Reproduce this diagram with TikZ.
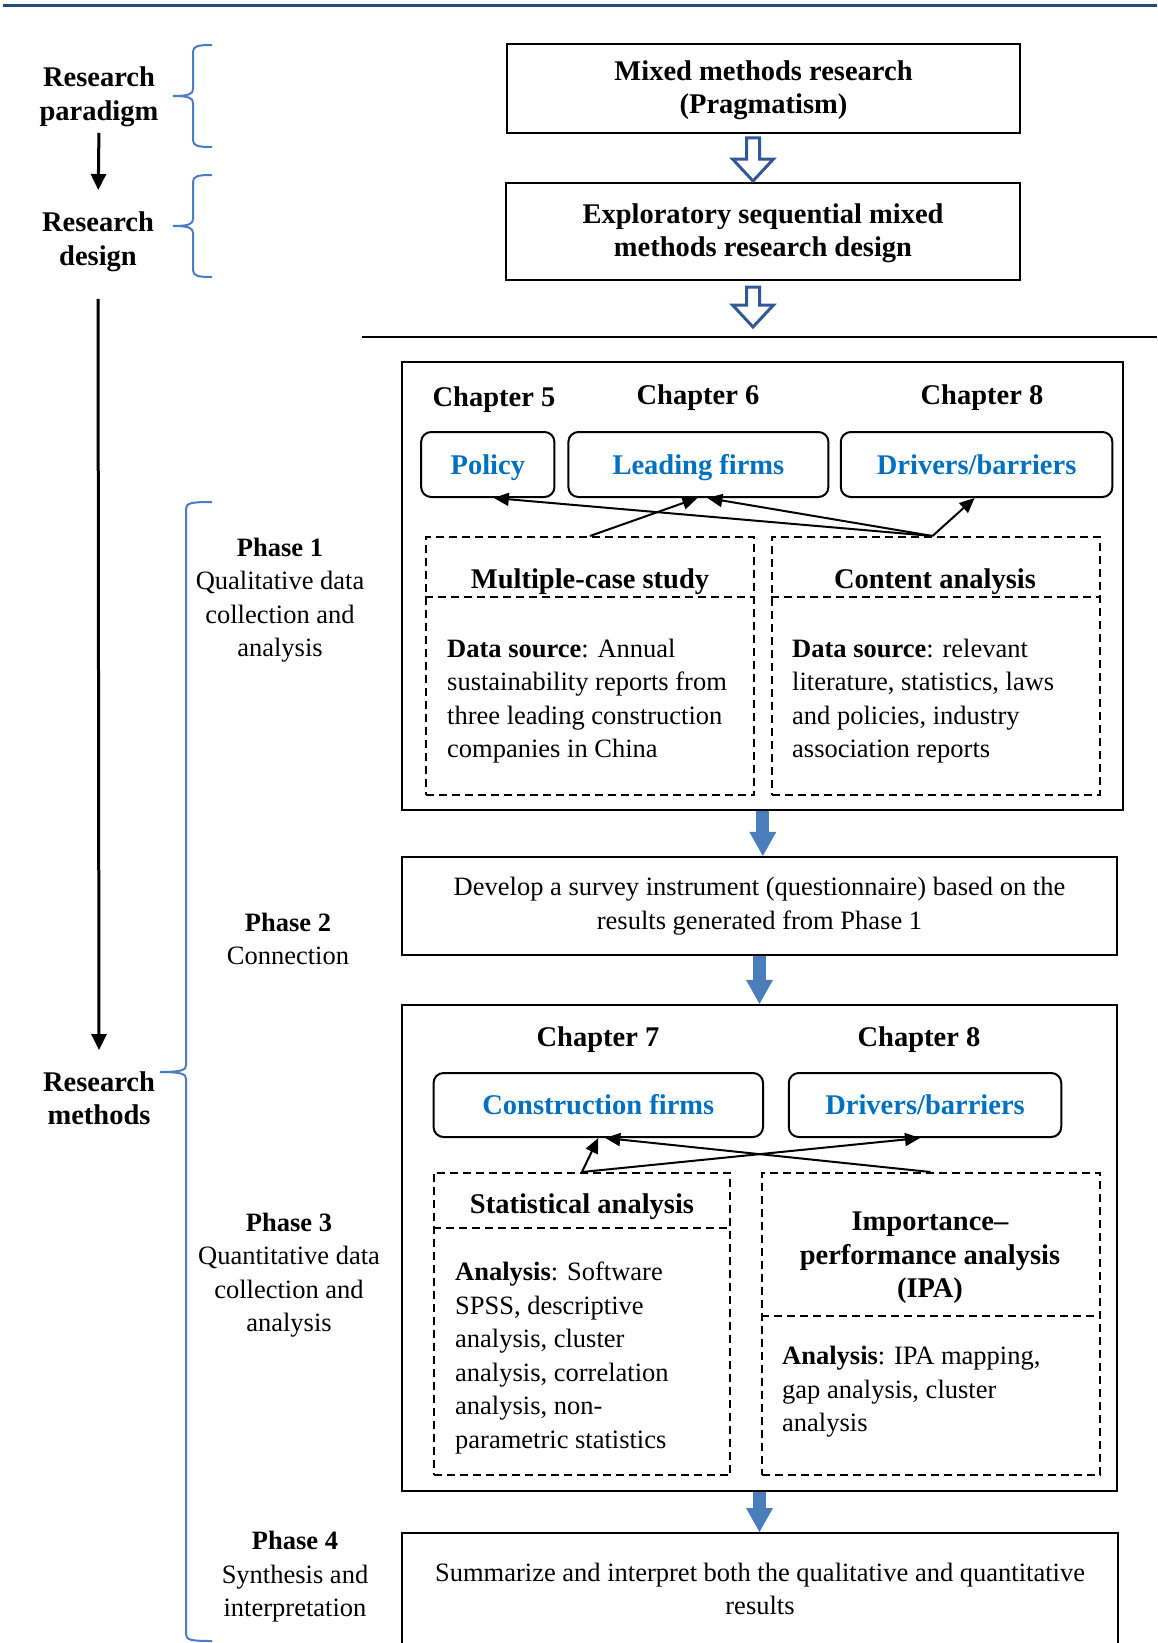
\documentclass[tikz,border=0pt]{standalone}
\usepackage{fontspec}
\setmainfont{Liberation Serif}
\usetikzlibrary{arrows.meta}

\definecolor{rulecol}{RGB}{31,78,121}
\definecolor{hollowcol}{RGB}{50,88,150}
\definecolor{bracecol}{RGB}{74,125,195}
\definecolor{flowblue}{RGB}{74,126,187}
\definecolor{textblue}{RGB}{0,112,192}

% curly bracket opening to the right: end x, spine x, tip x, top y, tip y, bottom y
\newcommand{\drawbrc}[6]{%
  \draw[bracestyle] (#1,#4) .. controls ({#2+5},#4) and (#2,{#4+1}) .. (#2,{#4+7})
    -- (#2,{#5-7}) .. controls (#2,{#5-2}) and ({#2-4},#5) .. (#3,#5)
    .. controls ({#2-4},#5) and (#2,{#5+2}) .. (#2,{#5+7})
    -- (#2,{#6-7}) .. controls (#2,{#6-1}) and ({#2+5},#6) .. (#1,#6);}

\begin{document}
\begin{tikzpicture}[x=1pt,y=-1pt,
  txt/.style={inner sep=0pt, align=center, font=\fontsize{26.5}{33.5}\selectfont},
  btxt/.style={inner sep=0pt, align=center, font=\fontsize{28.5}{33.5}\selectfont\bfseries},
  bodytxt/.style={inner sep=0pt, align=left, anchor=west, font=\fontsize{26.5}{33.5}\selectfont},
  solidbox/.style={draw, line width=2.2pt, inner sep=0pt},
  roundbox/.style={draw, line width=2pt, rounded corners=10pt, inner sep=0pt,
    text height=20pt, text depth=1pt,
    text=textblue, font=\fontsize{28.5}{33.5}\selectfont\bfseries},
  dashbox/.style={draw, line width=2pt, dash pattern=on 8pt off 5pt, inner sep=0pt},
  dashrule/.style={line width=2pt, dash pattern=on 8pt off 5pt},
  link/.style={line width=2pt, -{Triangle[length=15pt,width=13pt]}},
  stagearrow/.style={line width=3pt, -{Triangle[length=16pt,width=15pt]}},
  flowarrow/.style={draw=flowblue, line width=13pt,
    -{Triangle[length=24pt,width=27pt,line width=0pt]}},
  bracestyle/.style={draw=bracecol, line width=2pt},
  hollowstyle/.style={draw=hollowcol, line width=3pt, fill=white, line join=miter},
  pics/hollowdown/.style={code={
    \draw[hollowstyle] (-6.5,0) -- (6.5,0) -- (6.5,#1-22) -- (20.5,#1-22) -- (0,#1)
      -- (-20.5,#1-22) -- (-6.5,#1-22) -- cycle;}}
]
\useasboundingbox (0,0) rectangle (1157,1643);
\clip (0,0) rectangle (1157,1643);

% header rule
\draw[rulecol, line width=3pt] (3,6) -- (1157,6);

% ---------- left column: stages ----------
\node[btxt] (paradigm) at (99,97) {Research\\paradigm};
\node[btxt] (design) at (98,242) {Research\\design};
\node[btxt] (methods) at (99,1098) {Research\\methods};
\draw[stagearrow, shorten <=6pt, shorten >=22pt] (paradigm.south) -- (design.north);
\draw[stagearrow, shorten <=27pt, shorten >=21pt] (design.south) -- (methods.north);

\drawbrc{212}{193}{173}{45}{96}{147}
\drawbrc{212}{193}{173}{175}{226}{277}
\drawbrc{212}{186}{160}{502}{1072}{1641}

% phase labels
\node[txt] (ph1) at (280,600) {\textbf{Phase 1}\\Qualitative data\\collection and\\analysis};
\node[txt] (ph2) at (288,939) {\textbf{Phase 2}\\Connection};
\node[txt] (ph3) at (289,1275) {\textbf{Phase 3}\\Quantitative data\\collection and\\analysis};
\node[txt] (ph4) at (295,1577) {\textbf{Phase 4}\\Synthesis and\\interpretation};

% ---------- paradigm and design ----------
\node[solidbox, line width=2.6pt, minimum width=513pt, minimum height=89pt] (boxA) at (763.5,88.5) {};
\node[btxt] (boxAt) at ([yshift=-2pt]boxA.center) {Mixed methods research\\(Pragmatism)};
\node[solidbox, line width=2.6pt, minimum width=514pt, minimum height=97pt] (boxB) at (763,231.5) {};
\node[btxt] (boxBt) at ([yshift=-2pt]boxB.center) {Exploratory sequential mixed\\methods research design};
\pic at (753,138) {hollowdown=43};
\pic at (753,287) {hollowdown=40};
\draw[line width=2pt] (362,337) -- (1157,337);

% ---------- Phase 1 ----------
\node[solidbox, minimum width=721pt, minimum height=448pt] (p1) at (762.8,586) {};
\node[btxt] (ch5) at (494,400) {Chapter 5};
\node[btxt] (ch6) at (698,398) {Chapter 6};
\node[btxt] (ch8a) at (982,398) {Chapter 8};
\node[roundbox, minimum width=133.3pt, minimum height=65pt] (pol) at (487.8,464.5) {Policy};
\node[roundbox, minimum width=260pt, minimum height=65pt] (lead) at (698.4,464.5) {Leading firms};
\node[roundbox, minimum width=271.6pt, minimum height=65pt] (dri) at (976.6,464.5) {Drivers/barriers};

\node[dashbox, minimum width=328.5pt, minimum height=258pt] (caseL) at (589.9,666) {};
\node[dashbox, minimum width=328pt, minimum height=258pt] (contR) at (935.5,666) {};
\draw[dashrule] (caseL.west |- 0,597) -- (caseL.east |- 0,597);
\draw[dashrule] (contR.west |- 0,597) -- (contR.east |- 0,597);
\node[btxt] (caseT) at (590,582) {Multiple-case study};
\node[btxt] (contT) at (935,582) {Content analysis};
\node[bodytxt] (caseB) at (447,701) {\textbf{Data source}: Annual\\sustainability reports from\\three leading construction\\companies in China};
\node[bodytxt] (contB) at (792,701) {\textbf{Data source}: relevant\\literature, statistics, laws\\and policies, industry\\association reports};

\draw[link] (caseL.north) -- ([xshift=-1pt]lead.south);
\draw[link] ([xshift=-3pt]contR.north) -- ([xshift=6pt]pol.south);
\draw[link] ([xshift=-3pt]contR.north) -- ([xshift=9pt]lead.south);
\draw[link] ([xshift=-3pt]contR.north) -- ([xshift=-2pt]dri.south);

% ---------- Phase 2 ----------
\node[solidbox, minimum width=714.5pt, minimum height=98pt] (p2) at (759.5,906) {};
\node[txt] (p2t) at (p2.center) {Develop a survey instrument (questionnaire) based on the\\results generated from Phase 1};
\draw[flowarrow] (p1.south) -- (p1.south |- p2.north);

% ---------- Phase 3 ----------
\node[solidbox, minimum width=714.5pt, minimum height=486pt] (p3) at (759.5,1248) {};
\draw[flowarrow] (p2.south) -- (p2.south |- p3.north);
\node[btxt] (ch7) at (598,1040) {Chapter 7};
\node[btxt] (ch8b) at (919,1040) {Chapter 8};
\node[roundbox, minimum width=329.5pt, minimum height=64pt] (cons) at (598.3,1105) {Construction firms};
\node[roundbox, minimum width=272.5pt, minimum height=64pt] (dri2) at (925,1105) {Drivers/barriers};

\node[dashbox, minimum width=296.8pt, minimum height=302pt] (statL) at (581.9,1324) {};
\node[dashbox, minimum width=338pt, minimum height=302pt] (ipaR) at (930.5,1324) {};
\draw[dashrule] (statL.west |- 0,1228) -- (statL.east |- 0,1228);
\draw[dashrule] (ipaR.west |- 0,1316) -- (ipaR.east |- 0,1316);
\node[btxt] (statT) at (582,1207) {Statistical analysis};
\node[btxt] (ipaT) at (930,1258) {Importance–\\performance analysis\\(IPA)};
\node[bodytxt] (statB) at (455,1358) {\textbf{Analysis}: Software\\SPSS, descriptive\\analysis, cluster\\analysis, correlation\\analysis, non-\\parametric statistics};
\node[bodytxt] (ipaB) at (782,1392) {\textbf{Analysis}: IPA mapping,\\gap analysis, cluster\\analysis};

\draw[link] (statL.north) -- (cons.south);
\draw[link] (statL.north) -- ([xshift=-5pt]dri2.south);
\draw[link] (ipaR.north) -- ([xshift=7pt]cons.south);

% ---------- Phase 4 ----------
\node[solidbox, minimum width=716pt, minimum height=140pt, anchor=north] (p4) at (760,1532) {};
\node[txt] (p4t) at (760,1589) {Summarize and interpret both the qualitative and quantitative\\results};
\draw[flowarrow] (p3.south) -- (p3.south |- p4.north);
\end{tikzpicture}
\end{document}
